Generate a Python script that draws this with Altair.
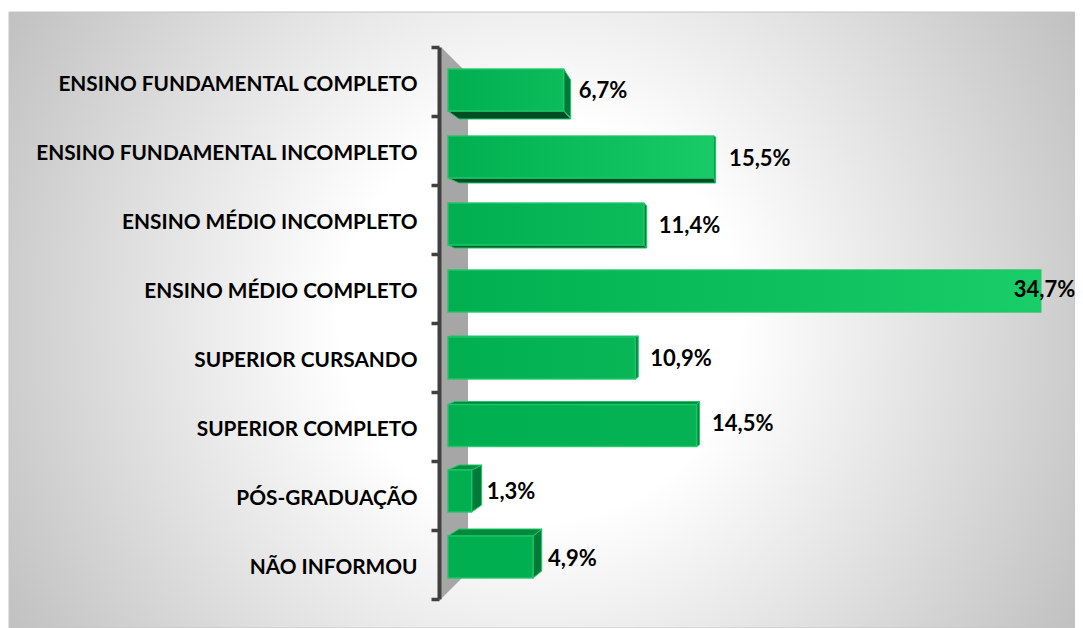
import json
import altair as alt
import pandas as pd

# ---- data ----
categories = ["ENSINO FUNDAMENTAL COMPLETO", "ENSINO FUNDAMENTAL INCOMPLETO",
              "ENSINO MÉDIO INCOMPLETO", "ENSINO MÉDIO COMPLETO", "SUPERIOR CURSANDO",
              "SUPERIOR COMPLETO", "PÓS-GRADUAÇÃO", "NÃO INFORMOU"]
values = [6.7, 15.5, 11.4, 34.7, 10.9, 14.5, 1.3, 4.9]
labels = ["6,7%", "15,5%", "11,4%", "34,7%", "10,9%", "14,5%", "1,3%", "4,9%"]

# ---- 3D look (pixels): perspective of each bar ----
shift = [8.5, 6.5, 4.5, 2.5, 0.5, -1, -4.5, -7.5]      # bar centre vs slot centre
side_dx = [7, 2, 3, 0, 3, 3, 10, 8.7]                    # width of right face
side_top = [11, 1, 3, 0, -1, -3, -5, -7]                 # y shift, far top corner
side_bot = [7, 5, 3, 0, -2, -2, -7, -7]                  # y shift, far bottom corner
cap_dy = [8, 5, 3, 0, -1, -3, -5, -7]                    # visible bottom(+)/top(-) face
end_col = ["#0cbb5a", "#18cb66", "#0cbb5a", "#19cd68", "#08b656", "#04b253", "#00b050", "#00b050"]
side_col = ["#00783a", "#00843e", "#008a40", "#00b050", "#008a40", "#008a40", "#007a38", "#007a38"]
cap_col = ["#004d25", "#004d25", "#005c2b", "#00b050", "#008a40", "#008a40", "#00913f", "#008a3c"]
value_dx = [15, 15.5, 15, -27, 15, 15.5, 15, 15]
value_dy = [1, 1.5, 1.5, -1, 0.5, -2, 0.5, 1.5]

SLOPE, X0, AX = 17.04, 449.5, 439
TOP, STEP, BAR, LEFT = 47, 69, 42, 448
RIGHT_EDGE, BOTTOM_EDGE = 1075, 628
W, H = RIGHT_EDGE - AX, STEP * 8
X = lambda p: (p - X0) / SLOPE
Y = lambda p: (p - TOP) / STEP

xs = alt.Scale(domain=[X(AX), X(RIGHT_EDGE)], nice=False, zero=False)
ys = alt.Scale(domain=[0, 8], nice=False, zero=False, reverse=True)
ex = lambda f="x": alt.X(f"{f}:Q", scale=xs, axis=None)
ey = lambda f="y": alt.Y(f"{f}:Q", scale=ys, title=None)
one = pd.DataFrame({"a": [0]})

# background: circular glow on a square panel, trimmed to the reference's frame
CX, CY, HALF = 540, 320, 640
bg = alt.Chart(one).mark_rect(
    color={"gradient": "radial", "x1": 0.5, "y1": 0.5, "x2": 0.5, "y2": 0.5, "r1": 0.156, "r2": 0.5,
           "stops": [{"offset": 0, "color": "#ffffff"}, {"offset": 1, "color": "#bdbdbd"}]},
).encode(x=alt.value(CX - HALF - AX), x2=alt.value(CX + HALF - AX),
         y=alt.value(CY - HALF - TOP), y2=alt.value(CY + HALF - TOP))
trim_top = alt.Chart(one).mark_rect(color="#ffffff").encode(
    x=alt.value(8 - AX), x2=alt.value(W), y=alt.value(8 - TOP), y2=alt.value(12 - TOP))
trim_left = alt.Chart(one).mark_rect(color="#ffffff").encode(
    x=alt.value(8 - AX), x2=alt.value(9 - AX), y=alt.value(8 - TOP), y2=alt.value(BOTTOM_EDGE - TOP))
frame = alt.Chart(one).mark_rect(fillOpacity=0, stroke="#c4c4c4", strokeWidth=1).encode(
    x=alt.value(9 - AX), x2=alt.value(W), y=alt.value(12 - TOP), y2=alt.value(BOTTOM_EDGE - TOP))

# wall
wall_df = pd.DataFrame({"x": [X(441), X(468)], "y": [Y(47), Y(74)], "y2": [Y(599), Y(572)]})
axis = alt.Axis(values=list(range(9)), title=None, grid=False, domainColor="#404040", domainWidth=4,
                tickColor="#404040", tickWidth=3.5, tickSize=8, labelFont="Lato", labelFontWeight="bold",
                labelFontSize=20.8, labelColor="#000000", labelPadding=14, labelOffset=37, zindex=1,
                labelExpr=f"{json.dumps(categories, ensure_ascii=False)}[datum.value] || ''",
                labelLimit=600, labelBound=False, labelOverlap=False, labelFlush=False)
wall = alt.Chart(wall_df).mark_area(color="#a6a6a6").encode(
    x=ex(), y=alt.Y("y:Q", scale=ys, axis=axis), y2="y2:Q")

# faces
side_rows, cap_rows, layers = [], [], []
for i, v in enumerate(values):
    c = TOP + STEP * (i + 0.5) + shift[i]
    t, b = c - BAR / 2, c + BAR / 2
    right = X0 + v * SLOPE
    if side_dx[i]:
        side_rows += [dict(id=i, x=X(right), y=Y(t), y2=Y(b), c=side_col[i]),
                      dict(id=i, x=X(right + side_dx[i]), y=Y(t + side_top[i]), y2=Y(b + side_bot[i]), c=side_col[i])]
    if cap_dy[i]:
        edge = b if cap_dy[i] > 0 else t
        cap_rows += [dict(id=i, y=Y(edge), x=X(LEFT), x2=X(right), c=cap_col[i]),
                     dict(id=i, y=Y(edge + cap_dy[i]), x=X(LEFT + 11 * min(1, abs(cap_dy[i]) / 5)),
                          x2=X(right + side_dx[i]), c=cap_col[i])]
    front = pd.DataFrame({"x": [X(LEFT)], "x2": [v], "y": [Y(t)], "y2": [Y(b)]})
    layers.append(alt.Chart(front).mark_rect(
        color={"gradient": "linear", "x1": 0, "y1": 0.5, "x2": 1, "y2": 0.5,
               "stops": [{"offset": 0, "color": "#00b050"}, {"offset": 1, "color": end_col[i]}]},
        stroke="#1fc56a", strokeWidth=1.5, strokeOpacity=0.9,
    ).encode(x=ex(), x2="x2:Q", y=ey(), y2="y2:Q"))

sides = alt.Chart(pd.DataFrame(side_rows)).mark_area(stroke="#1fc56a", strokeWidth=1).encode(
    x=ex(), y=ey(), y2="y2:Q", detail="id:N", color=alt.Color("c:N", scale=None))
caps = alt.Chart(pd.DataFrame(cap_rows)).mark_area(orient="horizontal", stroke="#1fc56a", strokeWidth=1).encode(
    y=ey(), x=ex(), x2="x2:Q", detail="id:N", color=alt.Color("c:N", scale=None))

text_df = pd.DataFrame({
    "x": [X(X0 + v * SLOPE + d) for v, d in zip(values, value_dx)],
    "y": [Y(TOP + STEP * (i + 0.5) + shift[i] + value_dy[i]) for i in range(8)],
    "label": labels})
texts = alt.Chart(text_df).mark_text(align="left", baseline="middle", font="Lato", fontWeight="bold",
                                     fontSize=22, color="#000000").encode(x=ex(), y=ey(), text="label:N")

# the axis-bearing wall comes first so that its axis settings win; bg layers follow, then the wall is repeated on top
wall_top = alt.Chart(wall_df).mark_area(color="#a6a6a6").encode(x=ex(), y=ey(), y2="y2:Q")
chart = alt.layer(wall, bg, trim_top, trim_left, frame, wall_top, sides, caps, *layers, texts).properties(
    width=W, height=H,
    padding={"left": AX - 8, "top": TOP - 8, "right": 0, "bottom": BOTTOM_EDGE - 8 - (TOP - 8) - H},
    autosize=alt.AutoSizeParams(type="none"),
    background="#ffffff",
).configure_view(stroke=None)

chart.save("out.html", embed_options={"renderer": "svg", "actions": False})
